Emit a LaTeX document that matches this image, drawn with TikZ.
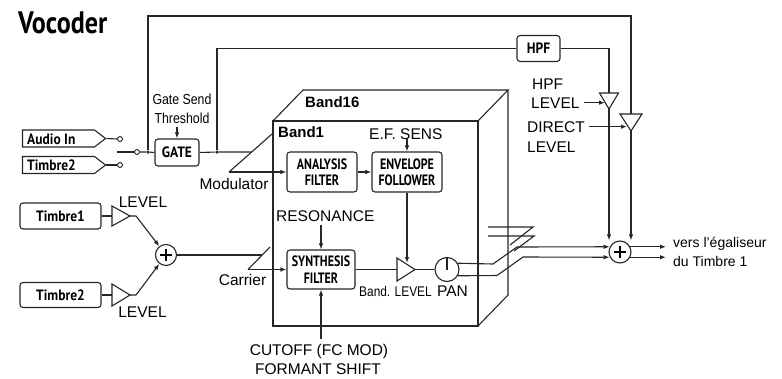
\documentclass[tikz,border=0pt]{standalone}
\usepackage{fontspec}
\setmainfont{Liberation Sans}
\newfontfamily\cnd{Liberation Sans}[FakeStretch=0.85]
\newfontfamily\bxf{PT Sans}[FakeStretch=0.9]
\newfontfamily\bxc{PT Sans}[FakeStretch=0.8]
\newfontfamily\titf{PT Sans}[FakeStretch=0.84]
\usetikzlibrary{arrows.meta,shapes.symbols}
\begin{document}
\begin{tikzpicture}[x=1pt,y=-1pt,
  ln/.style={line width=1.1pt, draw=black!85},
  ar/.style={ln,-{Latex[length=6pt,width=4.5pt]}},
  lbl/.style={inner sep=0pt, font=\fontsize{15.5}{15.5}\selectfont},
  clbl/.style={inner sep=0pt, font=\cnd\fontsize{14.5}{14.5}\selectfont},
  bx/.style={draw=black!85, line width=1.1pt, rounded corners=3pt, inner sep=0pt, font=\bxf\bfseries\fontsize{15}{15}\selectfont},
  bx2/.style={bx, align=center, font=\bxc\bfseries\fontsize{15}{16.5}\selectfont},
  tag/.style={draw=black!85, line width=1.1pt, shape=signal, signal to=east, signal pointer angle=75, inner sep=0pt, minimum height=17pt, minimum width=83pt},
  tagt/.style={inner sep=0pt, anchor=base west, font=\bxf\bfseries\fontsize{15}{15}\selectfont},
  jdot/.style={circle, fill=black!85, inner sep=0pt, minimum size=3.5pt},
  cont/.style={circle, draw=black!85, line width=0.9pt, inner sep=0pt, minimum size=5pt, fill=white},
  summ/.style={circle, draw=black!85, line width=1.1pt, inner sep=0pt, minimum size=21pt},
  tri/.style={ln, fill=white}
]
\useasboundingbox[fill=white] (0,0) rectangle (782,378);

% title
\node[inner sep=0pt, anchor=base west, font=\titf\bfseries\fontsize{31}{31}\selectfont] (title) at (18,33) {Vocoder};

% inputs
\node[tag] (ain) at (58.5,138.5) {};
\node[tagt] (aint) at (27,144) {Audio In};
\node[tag] (tbt) at (58.5,165) {};
\node[tagt] (tbtt) at (27,170.5) {Timbre2};
\node[cont] (c1) at (120,139) {};
\node[cont] (c2) at (120,165) {};
\node[cont] (c3) at (137,152) {};
\coordinate (sw) at (117,152);
\node[jdot] (j1) at (148,152) {};
\node[bx, minimum width=44pt, minimum height=27pt] (gate) at (177,152.5) {GATE};
\node[jdot] (j2) at (217,152) {};
\draw[ln] (ain.east) -- (c1.west);
\draw[ln] (tbt.east) -- (c2.west);
\draw[ln] (sw) -- (c3.west);
\draw[ln] (c3.east) -- (j1) -- (gate.west);

\node[clbl, anchor=base] (gs) at (182,104) {Gate Send};
\node[clbl, anchor=base] (thr) at (182,123) {Threshold};
\draw[ar] ([yshift=-4pt]gate.north |- thr.south) -- (gate.north);

% modulator selector
\coordinate (mt) at (272,134);
\coordinate (mb) at (229,172);
\coordinate (modin) at (251,152);
\draw[ln] (gate.east) -- (j2) -- (modin);
\draw[ln] (mt) -- (mb);
\node[lbl, anchor=base] (modl) at (234,189) {Modulator};

% top routes
\node[bx, minimum width=43pt, minimum height=26pt] (hpf) at (538.5,48.5) {HPF};
\coordinate (htop) at (609,93);
\coordinate (htip) at (609,109);
\coordinate (dtop) at (631,114);
\coordinate (dtip) at (631,131);
\draw[ln] (j1) -- (148,16) -- (631,16) -- (dtop);
\draw[ln] (j2) -- (j2 |- hpf.west) -- (hpf.west);
\draw[ln] (hpf.east) -- (hpf.east -| htop) -- (htop);
\draw[tri] (599.5,93) -- (618.5,93) -- (htip) -- cycle;
\draw[tri] (620,114) -- (642,114) -- (dtip) -- cycle;
\node[lbl, anchor=base west] (hpfl) at (532,89) {HPF};
\node[lbl, anchor=base west] (lvlh) at (531,108) {LEVEL};
\node[lbl, anchor=base west] (dirl) at (527,132) {DIRECT};
\node[lbl, anchor=base west] (lvld) at (527,152) {LEVEL};
\coordinate (hlt) at (605,0);
\coordinate (dlt) at (627,0);
\draw[ar] ([xshift=4pt]lvlh.east) -- (lvlh.east -| hlt);
\draw[ar] ([xshift=4pt]dirl.east) -- (dirl.east -| dlt);

% right summing
\node[summ, minimum size=22pt] (sumR) at (620,252) {};
\draw[line width=1.6pt] (sumR.center) ++(-6,0) -- ++(12,0) (sumR.center) ++(0,-6) -- ++(0,12);
\draw[ar] (htip) -- (htip |- sumR.north);
\draw[ar] (dtip) -- (dtip |- sumR.north);
\coordinate (o1) at (666,0);
\draw[ar] (sumR.27) -- (sumR.27 -| o1);
\draw[ar] (sumR.-27) -- (sumR.-27 -| o1);
\node[inner sep=0pt, anchor=base west, font=\fontsize{14}{14}\selectfont] (vers) at (673,247) {vers l'égaliseur};
\node[inner sep=0pt, anchor=base west, font=\fontsize{14}{14}\selectfont] (dut) at (673,266) {du Timbre 1};

% band box
\draw[ln] (273,121) rectangle (478,326);
\draw[ln] (273,121) -- (303,90) -- (508,90) -- (478,121);
\draw[ln] (508,90) -- (508,295) -- (478,326);
\node[inner sep=0pt, anchor=base west, font=\bfseries\fontsize{15}{15}\selectfont] (b16) at (305,107) {Band16};
\node[inner sep=0pt, anchor=base west, font=\bfseries\fontsize{15}{15}\selectfont] (b1) at (278,137) {Band1};

\node[bx2, minimum width=70pt, minimum height=40pt] (ana) at (322,172) {ANALYSIS\\FILTER};
\node[bx2, minimum width=70pt, minimum height=40pt] (env) at (407,172) {ENVELOPE\\FOLLOWER};
\node[lbl, anchor=base west] (efs) at (369,139) {E.F. SENS};
\draw[ar] (mb) -- (ana.west);
\draw[ar] (ana.east) -- (env.west);
\draw[ar] (env.north |- efs.south) -- (env.north);

\node[bx2, minimum width=68pt, minimum height=39pt] (syn) at (321,269.5) {SYNTHESIS\\FILTER};
\node[lbl, anchor=base west] (res) at (276,221) {RESONANCE};
\draw[ar] ([yshift=-4pt]syn.north |- res.south) -- (syn.north);

% carrier selector
\coordinate (ct) at (270,247);
\coordinate (cb) at (248,269.5);
\coordinate (carin) at (262,255);
\draw[ln] (ct) -- (cb);
\draw[ar] (cb) -- (syn.west);
\node[lbl, anchor=base] (carl) at (242.5,285) {Carrier};

% band level + pan
\coordinate (bt1) at (397,258);
\coordinate (btip) at (415,269.5);
\coordinate (bt2) at (397,281);
\draw[tri] (bt1) -- (btip) -- (bt2) -- cycle;
\draw[ln] (syn.east) -- (syn.east -| bt1);
\draw[ar] (env.south) -- (407,263);
\node[summ, minimum size=24pt] (pan) at (447,269.5) {};
\draw[ln] (pan.center) -- (pan.north);
\draw[ln] (btip) -- (pan.west);
\node[inner sep=0pt, anchor=base west, font=\cnd\fontsize{14}{14}\selectfont] (bl) at (359,296) {Band. LEVEL};
\node[lbl, anchor=base west] (panl) at (437,296) {PAN};

% cutoff
\node[lbl, anchor=base] (cut) at (319,355) {CUTOFF (FC MOD)};
\node[lbl, anchor=base] (fsh) at (318,374) {FORMANT SHIFT};
\draw[ar] ([yshift=5pt]syn.south |- cut.north) -- (syn.south);

% band outputs to right sum
\draw[ar] (pan.30) -- (493,264) -- (517,247) -- (sumR.153);
\draw[ar] (pan.-30) -- (497,275.5) -- (523,257) -- (sumR.-153);
\draw[ln] (488,227) -- (533,227) -- (510,245);
\draw[ln] (488,236) -- (534,236) -- (514,251);

% timbre inputs
\node[bx, minimum width=81pt, minimum height=26pt] (tb1) at (60.5,216) {Timbre1};
\node[bx, minimum width=81pt, minimum height=25pt] (tb2) at (60.5,295) {Timbre2};
\coordinate (t1w) at (112,216);
\coordinate (t1e) at (130,216);
\coordinate (t2w) at (112,295);
\coordinate (t2e) at (130,295);
\draw[tri] (112,206) -- (t1e) -- (112,226) -- cycle;
\draw[tri] (112,284) -- (t2e) -- (112,306) -- cycle;
\draw[ln] (tb1.east) -- (t1w);
\draw[ln] (tb2.east) -- (t2w);
\node[summ] (sumL) at (166,255) {};
\draw[line width=1.6pt] (sumL.center) ++(-6,0) -- ++(12,0) (sumL.center) ++(0,-6) -- ++(0,12);
\draw[ar] (t1e) -- ++(6,0) -- (sumL);
\draw[ar] (t2e) -- ++(6,0) -- (sumL);
\draw[ln] (sumL.east) -- (carin);
\node[lbl, anchor=base] (lv1) at (143,207) {LEVEL};
\node[lbl, anchor=base] (lv2) at (142.5,317) {LEVEL};
\end{tikzpicture}
\end{document}
